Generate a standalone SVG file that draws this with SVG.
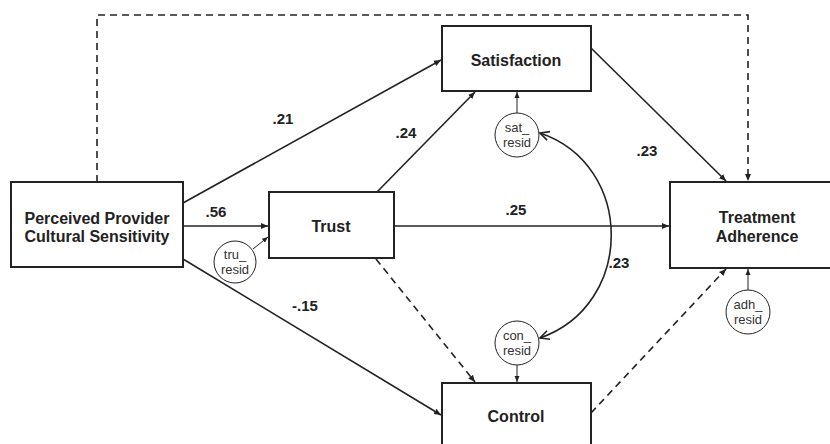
<svg xmlns="http://www.w3.org/2000/svg" width="830" height="444" viewBox="0 0 830 444">
<style>
.box{fill:#fff;stroke:#222;stroke-width:2}
.res{fill:#fff;stroke:#222;stroke-width:1}
.nt{font-family:"Liberation Sans",Arial,sans-serif;font-weight:bold;font-size:16px;fill:#222;text-anchor:middle}
.rt{font-family:"Liberation Sans",Arial,sans-serif;font-size:13px;fill:#333;text-anchor:middle}
.lb{font-family:"Liberation Sans",Arial,sans-serif;font-weight:bold;font-size:15px;fill:#222;text-anchor:middle}
.c{fill:none;stroke:#222;stroke-width:1.6}
.d{stroke-dasharray:7,5}
.thin{fill:none;stroke:#222;stroke-width:1}
</style>
<defs>
<marker id="ah" markerWidth="8" markerHeight="8" refX="7" refY="4" orient="auto" markerUnits="userSpaceOnUse"><path d="M0,1 L7,4 L0,7 Z" fill="#222"/></marker>
<marker id="ahs" markerWidth="7" markerHeight="7" refX="6" refY="3.5" orient="auto" markerUnits="userSpaceOnUse"><path d="M0,1 L6,3.5 L0,6 Z" fill="#222"/></marker>
<marker id="av" markerWidth="12" markerHeight="12" refX="10" refY="6" orient="auto-start-reverse" markerUnits="userSpaceOnUse"><path d="M1,1.5 L10,6 L1,10.5" fill="none" stroke="#222" stroke-width="1.6"/></marker>
</defs>
<g id="connectors">
<path class="c d" d="M97,182 V15 H748 V181" marker-end="url(#ah)"/>
<line class="c" x1="183" y1="203" x2="441" y2="60" marker-end="url(#ah)"/>
<line class="c" x1="183" y1="226" x2="268" y2="226" marker-end="url(#ah)"/>
<line class="c" x1="183" y1="259" x2="441" y2="415" marker-end="url(#ah)"/>
<line class="c" x1="377" y1="192" x2="475" y2="92" marker-end="url(#ah)"/>
<line class="c" x1="394" y1="226" x2="669" y2="226" marker-end="url(#ah)"/>
<line class="c d" x1="376" y1="259" x2="475" y2="382" marker-end="url(#ah)"/>
<line class="c" x1="591" y1="48" x2="726" y2="181" marker-end="url(#ah)"/>
<line class="c d" x1="591" y1="413" x2="726" y2="269" marker-end="url(#ah)"/>
<line class="thin" x1="253" y1="249" x2="268" y2="237" marker-end="url(#ahs)"/>
<line class="thin" x1="517" y1="113" x2="517" y2="92" marker-end="url(#ahs)"/>
<line class="thin" x1="517" y1="365" x2="517" y2="382" marker-end="url(#ahs)"/>
<line class="thin" x1="748" y1="290" x2="748" y2="269" marker-end="url(#ahs)"/>
<path class="c" d="M540,133 C635,165 635,305 540,338" marker-start="url(#av)" marker-end="url(#av)"/>
</g>
<g id="labels">
<text class="lb" x="283" y="124">.21</text>
<text class="lb" x="406" y="138">.24</text>
<text class="lb" x="216" y="217">.56</text>
<text class="lb" x="516" y="215">.25</text>
<text class="lb" x="647" y="156">.23</text>
<text class="lb" x="305" y="311">-.15</text>
<text class="lb" x="619" y="268">.23</text>
</g>
<g id="perceived">
<rect class="box" x="11" y="182" width="172" height="85"/>
<text class="nt" x="97" y="224">Perceived Provider</text>
<text class="nt" x="97" y="242">Cultural Sensitivity</text>
</g>
<g id="trust">
<rect class="box" x="269" y="192" width="125" height="66"/>
<text class="nt" x="331" y="232">Trust</text>
</g>
<g id="satisfaction">
<rect class="box" x="442" y="26" width="149" height="65"/>
<text class="nt" x="516" y="66">Satisfaction</text>
</g>
<g id="control">
<rect class="box" x="442" y="383" width="149" height="66"/>
<text class="nt" x="516" y="422">Control</text>
</g>
<g id="adherence">
<rect class="box" x="670" y="182" width="176" height="86"/>
<text class="nt" x="757" y="223">Treatment</text>
<text class="nt" x="757" y="242">Adherence</text>
</g>
<g id="tru_resid">
<circle class="res" cx="235" cy="262" r="21"/>
<text class="rt" x="235" y="259">tru_</text>
<text class="rt" x="235" y="274">resid</text>
</g>
<g id="sat_resid">
<circle class="res" cx="517" cy="135" r="22"/>
<text class="rt" x="517" y="132">sat_</text>
<text class="rt" x="517" y="147">resid</text>
</g>
<g id="con_resid">
<circle class="res" cx="517" cy="343" r="22"/>
<text class="rt" x="517" y="340">con_</text>
<text class="rt" x="517" y="355">resid</text>
</g>
<g id="adh_resid">
<circle class="res" cx="748" cy="312" r="22"/>
<text class="rt" x="748" y="309">adh_</text>
<text class="rt" x="748" y="324">resid</text>
</g>
</svg>
